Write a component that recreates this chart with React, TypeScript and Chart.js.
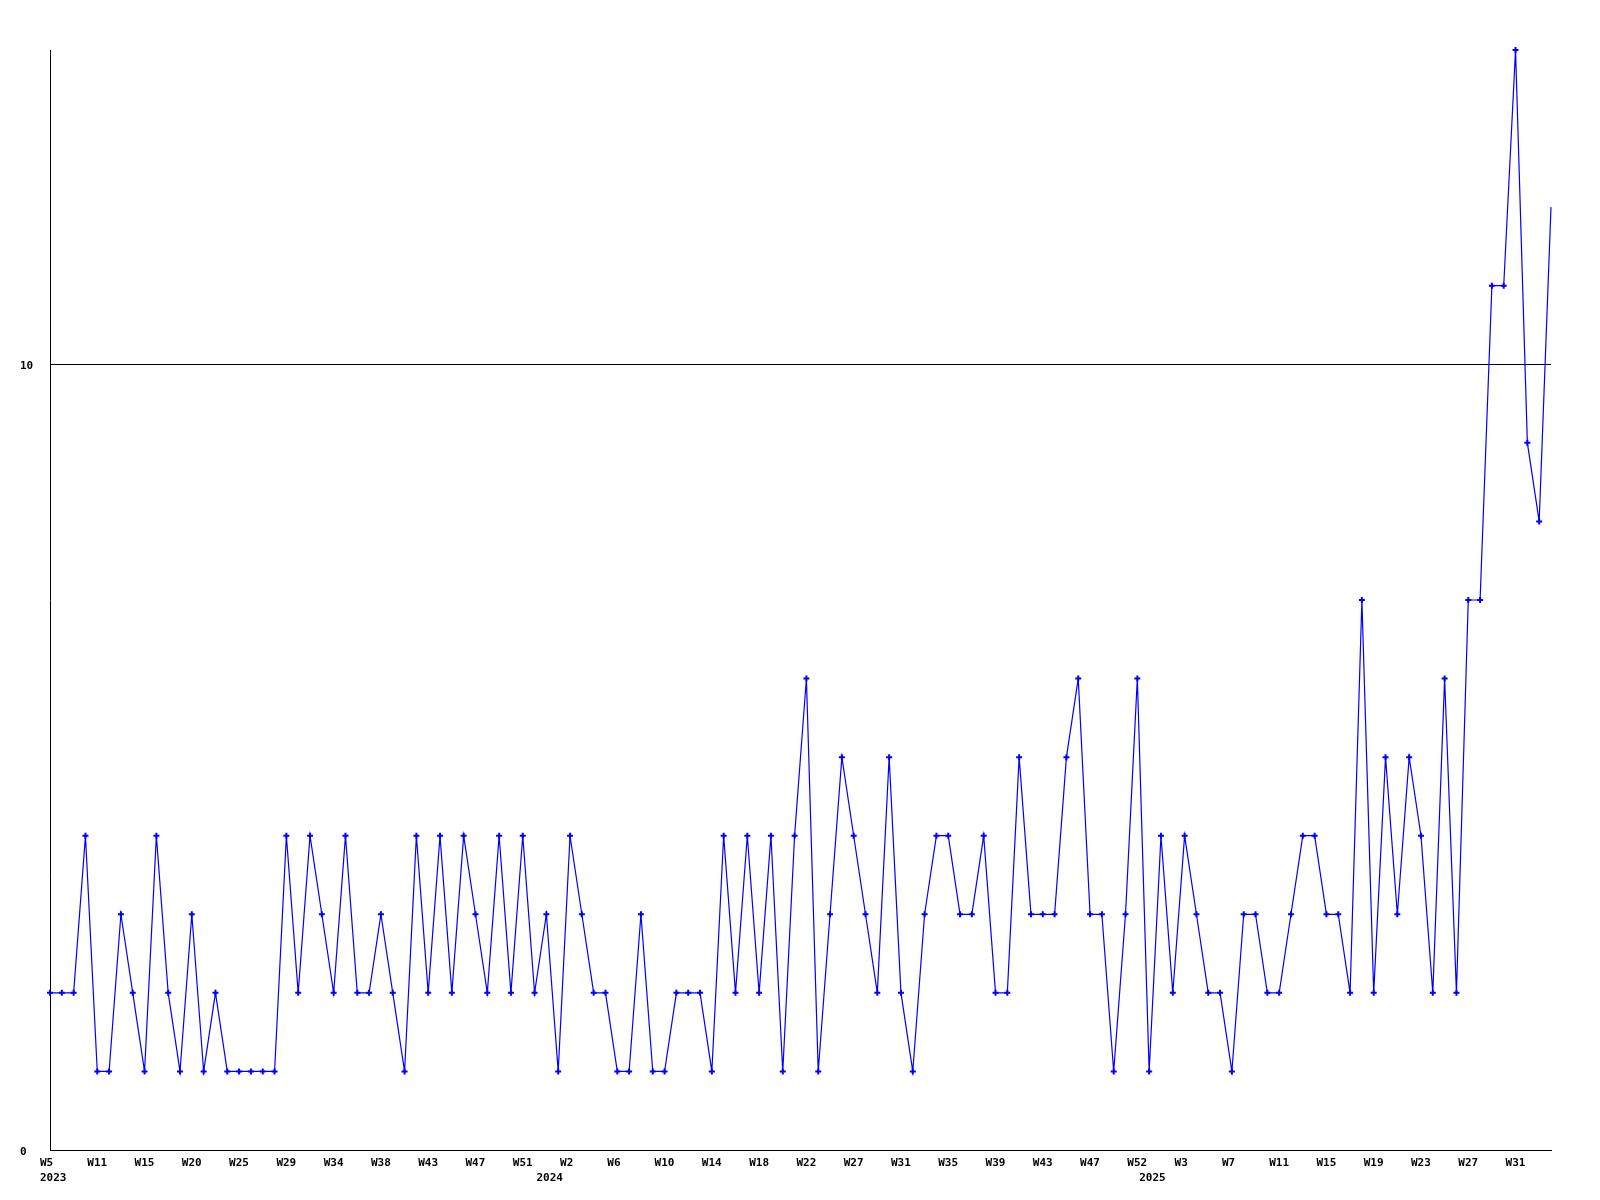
import React, { useEffect, useRef } from 'react';
import { Chart, registerables } from 'chart.js';

Chart.register(...registerables);

// Week numbers (Sunday-based, W0 = days before the first Sunday) of weeks that have data
const weeks2023 = [5, 6, 8, 9, 11, 12, 13, 14, 15, 16, 17, 19, 20, 21, 22, 24, 25, 26, 27, 28, 29, 30, 31, 33, 34, 35, 36, 37, 38, 39, 40, 42, 43, 44, 45, 46, 47, 48, 49, 50, 51, 52];
const weeks2024 = [0, 1, 2, 3, 4, 5, 6, 7, 8, 9, 10, 11, 12, 13, 14, 15, 16, 17, 18, 19, 20, 21, 22, 23, 24, 26, 27, 28, 29, 30, 31, 32, 33, 34, 35, 36, 37, 38, 39, 40, 41, 42, 43, 44, 45, 46, 47, 48, 50, 51, 52];
const weeks2025 = [0, 1, 2, 3, 4, 5, 6, 7, 8, 9, 10, 11, 12, 13, 14, 15, 16, 17, 18, 19, 20, 21, 22, 23, 24, 25, 26, 27, 28, 29, 30, 31, 32, 33, 34];

const values2023 = [2, 2, 2, 4, 1, 1, 3, 2, 1, 4, 2, 1, 3, 1, 2, 1, 1, 1, 1, 1, 4, 2, 4, 3, 2, 4, 2, 2, 3, 2, 1, 4, 2, 4, 2, 4, 3, 2, 4, 2, 4, 2];
const values2024 = [3, 1, 4, 3, 2, 2, 1, 1, 3, 1, 1, 2, 2, 2, 1, 4, 2, 4, 2, 4, 1, 4, 6, 1, 3, 5, 4, 3, 2, 5, 2, 1, 3, 4, 4, 3, 3, 4, 2, 2, 5, 3, 3, 3, 5, 6, 3, 3, 1, 3, 6];
const values2025 = [1, 4, 2, 4, 3, 2, 2, 1, 3, 3, 2, 2, 3, 4, 4, 3, 3, 2, 7, 2, 5, 3, 5, 4, 2, 6, 2, 7, 7, 11, 11, 14, 9, 8, 12];

const years = [2023, 2024, 2025];
const yTickValues = [0, 10];
const yMax = 14;
const labelEvery = 4;

export default function App() {
  const ref = useRef<HTMLCanvasElement>(null);

  useEffect(() => {
    const weekSets = [weeks2023, weeks2024, weeks2025];
    const valueSets = [values2023, values2024, values2025];
    const labels: string[] = [];
    const yearOf: number[] = [];
    const yearStart: boolean[] = [];
    weekSets.forEach((ws, k) =>
      ws.forEach((w, j) => {
        labels.push('W' + w);
        yearOf.push(years[k]);
        yearStart.push(j === 0);
      })
    );
    const data = ([] as number[]).concat(...valueSets);
    const font = { family: '"DejaVu Sans Mono", monospace', size: 11, weight: 'bold' as const, lineHeight: 1.32 };

    const chart = new Chart(ref.current as HTMLCanvasElement, {
      type: 'line',
      data: {
        labels,
        datasets: [
          {
            data,
            borderColor: '#0000ff',
            backgroundColor: '#0000ff',
            borderWidth: 1.2,
            pointStyle: 'cross',
            pointRadius: (c: any) => (c.dataIndex === data.length - 1 ? 0 : 3),
            pointBorderWidth: 2,
            pointBorderColor: '#0000ff',
            pointBackgroundColor: '#0000ff',
            tension: 0,
            fill: false,
            clip: false as any,
          },
        ],
      },
      options: {
        responsive: false,
        animation: false,
        events: [],
        layout: { padding: { left: 20, top: 50, right: 49, bottom: 0 } },
        plugins: { legend: { display: false }, tooltip: { enabled: false } },
        scales: {
          x: {
            type: 'category',
            grid: { display: false },
            border: { display: true, color: '#000', width: 1 },
            ticks: {
              autoSkip: false,
              maxRotation: 0,
              minRotation: 0,
              align: 'start',
              labelOffset: -10,
              padding: -2,
              color: '#000',
              font,
              callback: (_v: any, i: number) => {
                const wk = i % labelEvery === 0 ? labels[i] : '';
                return yearStart[i] ? [wk, String(yearOf[i])] : wk;
              },
            },
            afterFit: (s: any) => {
              s.height = 50;
            },
          },
          y: {
            min: 0,
            max: yMax,
            grid: { color: '#000', lineWidth: 1, drawTicks: false },
            border: { display: true, color: '#000', width: 1 },
            ticks: { color: '#000', font, crossAlign: 'far', padding: 0, labelOffset: 2 },
            afterBuildTicks: (s: any) => {
              s.ticks = yTickValues.map((v) => ({ value: v }));
            },
            afterFit: (s: any) => {
              s.width = 30;
            },
          },
        },
      } as any,
    });
    return () => chart.destroy();
  }, []);

  return (
    <div style={{ position: 'absolute', left: 0, top: 0, width: 1600, height: 1200, background: '#fff' }}>
      <canvas ref={ref} width={1600} height={1200} style={{ display: 'block', width: 1600, height: 1200 }} />
    </div>
  );
}
